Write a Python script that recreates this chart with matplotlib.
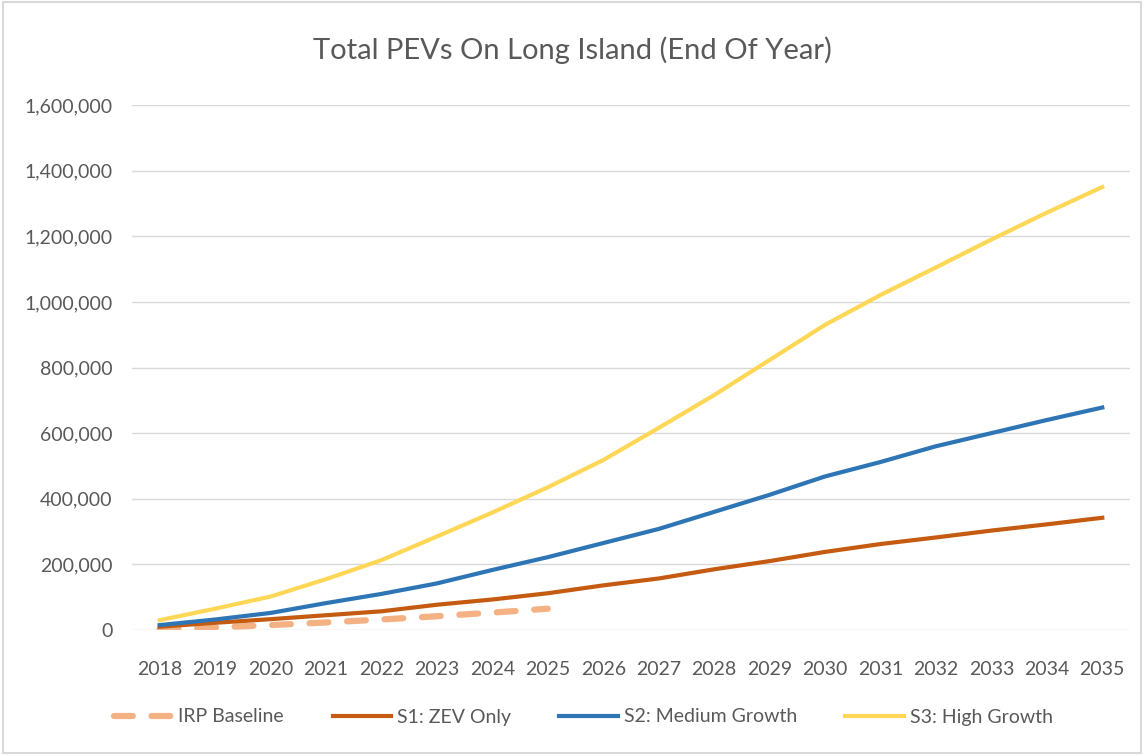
import numpy as np
import matplotlib.pyplot as plt
from matplotlib.ticker import FuncFormatter

plt.rcParams['font.family'] = ['Lato', 'DejaVu Sans']

years = list(range(2018, 2036))
irp_years = list(range(2018, 2026))
irp_baseline = [3000, 8000, 15000, 23000, 32000, 42000, 53000, 65000]
s1_zev = [10000, 22000, 33000, 45000, 57000, 77000, 93000, 112000, 136000,
          157000, 185000, 210000, 238000, 262000, 282000, 303000, 322000, 342000]
s2_medium = [15000, 32000, 52000, 82000, 110000, 142000, 183000, 222000, 265000,
             308000, 360000, 412000, 468000, 512000, 560000, 600000, 640000, 678000]
s3_high = [30000, 65000, 102000, 155000, 213000, 285000, 358000, 435000, 518000,
           616000, 716000, 823000, 930000, 1021000, 1105000, 1190000, 1272000, 1350000]

txt = '#595959'

fig = plt.figure(figsize=(11.44, 7.55), dpi=100)
ax = fig.add_axes([132 / 1144, 1 - 630 / 755, 998 / 1144, 525 / 755])

x = np.arange(len(years))
ax.plot(x[:len(irp_years)], irp_baseline, color='#F4B183', lw=4.5, ls=(0, (3, 3)),
        label='IRP Baseline', dash_capstyle='round')
ax.plot(x, s1_zev, color='#C55A11', lw=3, label='S1: ZEV Only')
ax.plot(x, s2_medium, color='#2E75B6', lw=3, label='S2: Medium Growth')
ax.plot(x, s3_high, color='#FFD757', lw=3, label='S3: High Growth')

ax.set_xlim(-0.5, len(years) - 0.5)
ax.set_ylim(0, 1600000)
ax.set_yticks(np.arange(0, 1600001, 200000))
ax.yaxis.set_major_formatter(FuncFormatter(lambda v, p: f'{int(v):,}'))
ax.set_xticks(x)
ax.set_xticklabels([str(y) for y in years])
ax.grid(axis='y', color='#D9D9D9', lw=1)
ax.set_axisbelow(True)
for s in ax.spines.values():
    s.set_visible(False)
ax.tick_params(length=0, labelsize=14, colors=txt)
ax.tick_params(axis='x', pad=22)
ax.tick_params(axis='y', pad=14)

fig.text(0.5, 1 - 50 / 755, 'Total PEVs On Long Island (End Of Year)', ha='center',
         va='center', fontsize=21, color=txt)

fig.legend(loc='center', bbox_to_anchor=(0.51, 1 - 717 / 755), ncol=4, frameon=False,
           fontsize=14, labelcolor=txt, handlelength=3.0, columnspacing=2.5,
           handletextpad=0.3)

border = plt.Rectangle((0.003, 0.003), 0.994, 0.994, transform=fig.transFigure,
                       fill=False, edgecolor='#D9D9D9', lw=1.5)
fig.patches.append(border)

fig.savefig('out.png', dpi=100, facecolor='white')
